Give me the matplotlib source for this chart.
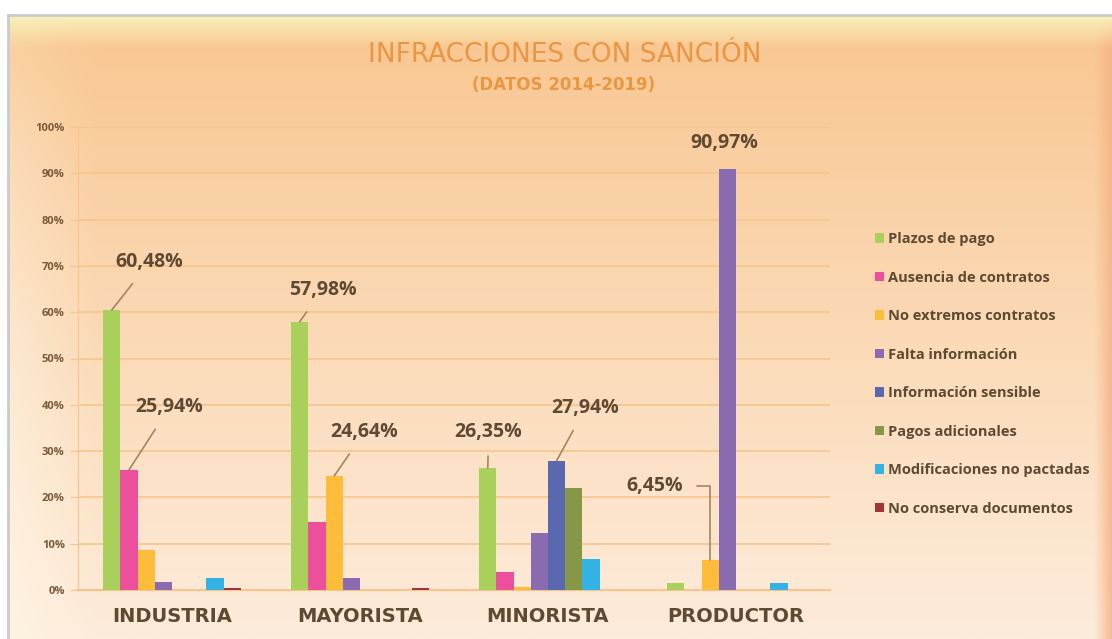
import numpy as np
import matplotlib
matplotlib.use("Agg")
import matplotlib.pyplot as plt
from matplotlib.ticker import FuncFormatter

# data (percent)
categories = ["INDUSTRIA", "MAYORISTA", "MINORISTA", "PRODUCTOR"]
series_names = ["Plazos de pago", "Ausencia de contratos", "No extremos contratos",
                "Falta información", "Información sensible", "Pagos adicionales",
                "Modificaciones no pactadas", "No conserva documentos"]
plazos_pago = [60.48, 57.98, 26.35, 1.5]
ausencia_contratos = [25.94, 14.75, 3.95, 0.0]
no_extremos = [8.7, 24.64, 0.7, 6.45]
falta_info = [1.66, 2.5, 12.4, 90.97]
info_sensible = [0.0, 0.0, 27.94, 0.0]
pagos_adicionales = [0.0, 0.0, 22.1, 0.0]
modificaciones = [2.5, 0.0, 6.6, 1.5]
no_conserva = [0.4, 0.4, 0.0, 0.0]
series_values = [plazos_pago, ausencia_contratos, no_extremos, falta_info,
                 info_sensible, pagos_adicionales, modificaciones, no_conserva]
colors = ["#A9D05A", "#EC4F9C", "#FDBC3A", "#8A6BB0",
          "#5A68B0", "#869845", "#34B2E4", "#A5323A"]

# labelled bars: (series index, category index, text position in data coords)
labels = [(0, 0, (-0.12, 70.8)), (1, 0, (-0.013, 39.5)),
          (0, 1, (0.80, 64.8)), (2, 1, (1.024, 34.1)),
          (0, 2, (1.684, 34.1)), (4, 2, (2.20, 39.3)),
          (2, 3, (2.57, 22.5)), (3, 3, (2.94, 96.5))]

brown = "#5E4A32"
plt.rcParams['font.family'] = ['Open Sans', 'DejaVu Sans']

fig = plt.figure(figsize=[11.12, 6.39], dpi=100)
fig.patch.set_facecolor("white")

# background panel with soft gradient
H, W = 300, 500
t = np.linspace(0, 1, H)[:, None]
s = np.linspace(0, 1, W)[None, :]
top = np.array([249, 198, 144]) / 255.
bot = np.array([253, 236, 219]) / 255.
img = top[None, None, :] * (1 - t[..., None]) + bot[None, None, :] * t[..., None]
img = np.broadcast_to(img, (H, W, 3)).copy()
light = np.array([254, 244, 226]) / 255.
wl = np.clip(1 - s / 0.08, 0, 1) * (0.15 + 0.7 * t)
img = img * (1 - wl[..., None]) + light * wl[..., None]
dark = np.array([245, 178, 130]) / 255.
wr = np.clip((s - 0.985) / 0.015, 0, 1) * 0.8
img = img * (1 - wr[..., None]) + dark * wr[..., None]
yel = np.array([250, 240, 185]) / 255.
wt = np.clip(1 - t / 0.05, 0, 1)
img = img * (1 - wt[..., None]) + yel * wt[..., None]
bg = fig.add_axes([8 / 1112, 0, 1 - 8 / 1112, 1 - 16 / 639])
bg.imshow(img, aspect="auto", extent=[0, 1, 0, 1])
bg.set_axis_off()
fig.add_artist(plt.Line2D([8 / 1112, 1], [1 - 15 / 639, 1 - 15 / 639], color="#C9CBD0", lw=2))
fig.add_artist(plt.Line2D([8 / 1112, 8 / 1112], [0, 1 - 15 / 639], color="#C9CBD0", lw=2))

ax = fig.add_axes([78 / 1112, 1 - 590 / 639, (830 - 78) / 1112, (590 - 127) / 639])
ax.set_facecolor("none")

n = len(series_names)
w = 0.0915
x = np.arange(len(categories))
for j in range(n):
    ax.bar(x + (j - (n - 1) / 2) * w, series_values[j], width=w, color=colors[j],
           label=series_names[j], zorder=3)

ax.set_xlim(-0.5, 3.5)
ax.set_ylim(0, 100)
ax.set_yticks(np.arange(0, 101, 10))
ax.yaxis.set_major_formatter(FuncFormatter(lambda v, p: "%d%%" % v))
ax.grid(axis="y", color="#F8C48C", lw=1.2, zorder=0)
for sp in ["top", "right"]:
    ax.spines[sp].set_visible(False)
ax.spines["left"].set_color("#F8C48C")
ax.spines["bottom"].set_color("#F8C48C")
ax.spines["bottom"].set_linewidth(1.5)
ax.tick_params(axis="y", colors="#F8C48C", length=6, labelcolor="#7A5A3A", labelsize=8)
ax.tick_params(axis="x", length=0, pad=12, labelcolor=brown, labelsize=14)
for lb in ax.get_yticklabels():
    lb.set_fontweight("bold")
ax.set_xticks(x)
ax.set_xticklabels(categories, fontweight="bold", family="DejaVu Sans")

for j, i, pos in labels:
    xb = x[i] + (j - (n - 1) / 2) * w
    yb = series_values[j][i]
    txt = ("%.2f%%" % yb).replace(".", ",")
    if j == 3 and i == 3:
        ax.text(pos[0], pos[1], txt, ha="center", va="center", fontsize=14,
                fontweight="bold", color=brown)
        continue
    conn = "arc3"
    if j == 2 and i == 3:
        conn = "angle,angleA=0,angleB=90,rad=0"
    ax.annotate(txt, xy=(xb, yb), xytext=pos, textcoords="data", ha="center", va="center",
                fontsize=14, fontweight="bold", color=brown,
                arrowprops=dict(arrowstyle="-", color="#A8845C", lw=1.2,
                                shrinkA=8, shrinkB=0, connectionstyle=conn))

fig.text(0.508, 0.914, "INFRACCIONES CON SANCIÓN", ha="center", va="center",
         fontsize=19, color="#EB9643", family="DejaVu Sans")
fig.text(0.507, 0.867, "(DATOS 2014-2019)", ha="center", va="center",
         fontsize=12, color="#EB9643", fontweight="bold", family="DejaVu Sans")

leg = ax.legend(loc="upper left", bbox_to_anchor=(862 / 1112, 1 - 219 / 639),
                bbox_transform=fig.transFigure, frameon=False, fontsize=10.5,
                labelspacing=1.68, handlelength=0.6, handleheight=0.6, handletextpad=0.3)
for tx in leg.get_texts():
    tx.set_color(brown)
    tx.set_fontweight("bold")

plt.savefig("out.png", dpi=100)
